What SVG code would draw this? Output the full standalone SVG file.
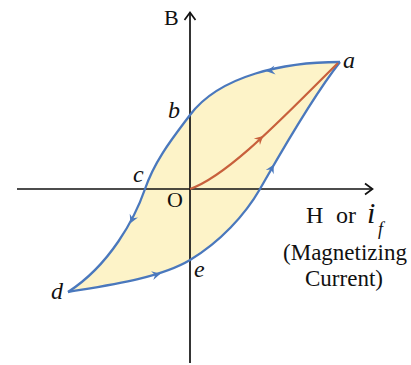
<svg xmlns="http://www.w3.org/2000/svg" width="411" height="365" viewBox="0 0 411 365">
<style>
.axis{stroke:#111;stroke-width:1.7;fill:none}
.loop{stroke:#4a78bd;stroke-width:2.3;fill:none}
.init{stroke:#c8603c;stroke-width:2.2;fill:none}
.lbl{font-family:"Liberation Serif",serif;font-style:italic;font-size:24px;fill:#111}
.txt{font-family:"Liberation Serif",serif;font-size:22px;fill:#111}
</style>
<defs>
<path id="ah" d="M-7,-4.5 L1.5,0 L-7,4.5 L-4,0 Z"/>
</defs>
<g id="fill-area">
<path d="M340,62 C285,62 220,75 190,115 C172,139 155,160 145,189 C135,218 110,265 68,292 C110,285 160,278 190,260 C220,242 245,215 260,189 C275,163 310,100 340,62 Z" fill="#fdf3c8" stroke="none"/>
</g>
<g id="axes">
<line class="axis" x1="190" y1="13" x2="190" y2="363"/>
<path class="axis" d="M184.5,20 L190,12.5 L195.5,20"/>
<line class="axis" x1="17" y1="189" x2="372" y2="189"/>
<path class="axis" d="M365,183.5 L372.5,189 L365,194.5"/>
</g>
<g id="connectors">
<path id="upper-branch" class="loop" d="M340,62 C285,62 220,75 190,115 C172,139 155,160 145,189 C135,218 110,265 68,292"/>
<path id="lower-branch" class="loop" d="M68,292 C110,285 160,278 190,260 C220,242 245,215 260,189 C275,163 310,100 340,62"/>
<path id="initial-curve" class="init" d="M190,189 C230,175 290,110 338,63"/>
<use href="#ah" fill="#4a78bd" transform="translate(268,71) rotate(172)"/>
<use href="#ah" fill="#4a78bd" transform="translate(131,222) rotate(114)"/>
<use href="#ah" fill="#4a78bd" transform="translate(159,274) rotate(-14)"/>
<use href="#ah" fill="#4a78bd" transform="translate(273,166) rotate(-62)"/>
<use href="#ah" fill="#c8603c" transform="translate(262,137) rotate(-43)"/>
</g>
<g id="point-a"><text class="lbl" x="343" y="68">a</text></g>
<g id="point-b"><text class="lbl" x="168" y="118">b</text></g>
<g id="point-c"><text class="lbl" x="133" y="182">c</text></g>
<g id="point-d"><text class="lbl" x="51" y="299">d</text></g>
<g id="point-e"><text class="lbl" x="194" y="277">e</text></g>
<g id="origin"><text class="txt" x="167" y="207">O</text></g>
<g id="axis-B"><text class="txt" x="164" y="25">B</text></g>
<g id="axis-H">
<text class="txt" x="306" y="223" style="font-size:24px">H</text>
<text class="txt" x="336" y="223" style="font-size:24px">or</text>
<text class="lbl" x="367" y="223" style="font-size:30px">i</text>
<text class="lbl" x="378" y="235" style="font-size:18px">f</text>
<text class="txt" x="345" y="260" text-anchor="middle" style="font-size:23px">(Magnetizing</text>
<text class="txt" x="344" y="286" text-anchor="middle" style="font-size:23px">Current)</text>
</g>
</svg>
